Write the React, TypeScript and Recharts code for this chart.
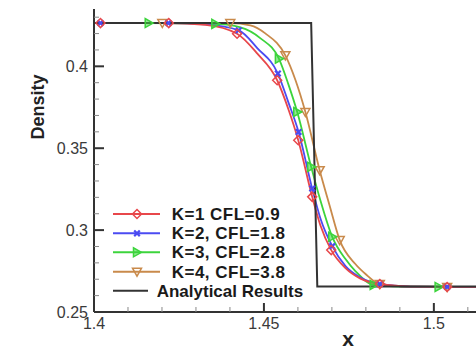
import React from 'react';
import { ComposedChart, Line, XAxis, YAxis } from 'recharts';

// ---------- tick values ----------
const xMajor = [1.4, 1.45, 1.5];
const xTicks = [1.4, 1.41, 1.42, 1.43, 1.44, 1.45, 1.46, 1.47, 1.48, 1.49, 1.5, 1.51];
const yMajor = [0.25, 0.3, 0.35, 0.4];
const yTicks = [0.25, 0.26, 0.27, 0.28, 0.29, 0.3, 0.31, 0.32, 0.33, 0.34, 0.35, 0.36, 0.37, 0.38, 0.39, 0.4, 0.41, 0.42, 0.43];

// ---------- series names ----------
const seriesNames = ['K=1 CFL=0.9', 'K=2, CFL=1.8', 'K=3, CFL=2.8', 'K=4, CFL=3.8', 'Analytical Results'];

// ---------- K=1 (red) ----------
const redCurveX = [1.4, 1.4328, 1.448, 1.4572, 1.4666, 1.474, 1.4784, 1.4931, 1.5124];
const redCurveY = [0.4264, 0.4253, 0.4079, 0.3738, 0.303, 0.2768, 0.2704, 0.2655, 0.2653];
const redMarkX = [1.4019, 1.422, 1.4421, 1.4539, 1.4601, 1.4642, 1.4698, 1.4841, 1.5039];
const redMarkY = [0.4264, 0.4264, 0.4199, 0.3915, 0.3549, 0.3203, 0.2878, 0.2671, 0.2653];

// ---------- K=2 (blue) ----------
const blueCurveX = [1.4, 1.4328, 1.4481, 1.4572, 1.4666, 1.474, 1.4784, 1.4931, 1.5124];
const blueCurveY = [0.4264, 0.4256, 0.411, 0.378, 0.3073, 0.278, 0.271, 0.2655, 0.2653];
const blueMarkX = [1.4019, 1.4219, 1.4426, 1.4541, 1.4602, 1.4642, 1.4701, 1.4841, 1.5039];
const blueMarkY = [0.4264, 0.4264, 0.422, 0.3956, 0.3599, 0.3254, 0.2902, 0.2671, 0.2653];

// ---------- K=3 (green) ----------
const greenCurveX = [1.4, 1.4431, 1.449, 1.4572, 1.4666, 1.474, 1.4769, 1.4902, 1.5124];
const greenCurveY = [0.4264, 0.4238, 0.4171, 0.389, 0.3183, 0.2823, 0.275, 0.2655, 0.2653];
const greenMarkX = [1.4161, 1.4357, 1.4544, 1.4598, 1.4639, 1.4701, 1.4823, 1.5014];
const greenMarkY = [0.4264, 0.4259, 0.4047, 0.3721, 0.3386, 0.2959, 0.2665, 0.2653];

// ---------- K=4 (brown) ----------
const brownCurveX = [1.4, 1.446, 1.4504, 1.4593, 1.4693, 1.4769, 1.4799, 1.4931, 1.5124];
const brownCurveY = [0.4264, 0.425, 0.4201, 0.3915, 0.3152, 0.2793, 0.2732, 0.2655, 0.2653];
const brownMarkX = [1.4201, 1.4401, 1.4563, 1.4622, 1.4664, 1.4723, 1.4841, 1.5039];
const brownMarkY = [0.4264, 0.4264, 0.4067, 0.3721, 0.3366, 0.2939, 0.2671, 0.2653];

// ---------- analytical ----------
const exactX = [1.4, 1.4639, 1.4657, 1.5124];
const exactY = [0.4264, 0.4264, 0.2655, 0.2655];

// ---------- styles ----------
const COLORS = ['#e8474b', '#4b4bf2', '#3cd43c', '#c98a4b', '#333333'];
const FONT = "'Liberation Sans', Arial, Helvetica, sans-serif";

type Pt = { x: number; y: number; m: boolean };

function build(cx: number[], cy: number[], mx: number[], my: number[]): Pt[] {
  const pts: Pt[] = [];
  cx.forEach((x, i) => pts.push({ x, y: cy[i], m: false }));
  mx.forEach((x, i) => pts.push({ x, y: my[i], m: true }));
  pts.sort((a, b) => a.x - b.x);
  return pts;
}

const redData = build(redCurveX, redCurveY, redMarkX, redMarkY);
const blueData = build(blueCurveX, blueCurveY, blueMarkX, blueMarkY);
const greenData = build(greenCurveX, greenCurveY, greenMarkX, greenMarkY);
const brownData = build(brownCurveX, brownCurveY, brownMarkX, brownMarkY);
const exactData = exactX.map((x, i) => ({ x, y: exactY[i] }));

function MarkerShape({ kind, cx, cy, color }: { kind: number; cx: number; cy: number; color: string }) {
  if (kind === 0) {
    const s = 4.5;
    return (
      <polygon
        points={`${cx},${cy - s} ${cx + s},${cy} ${cx},${cy + s} ${cx - s},${cy}`}
        fill="none"
        stroke={color}
        strokeWidth={1.5}
      />
    );
  }
  if (kind === 1) {
    const s = 2.8;
    return (
      <g stroke={color} strokeWidth={2.2}>
        <line x1={cx - s} y1={cy - s} x2={cx + s} y2={cy + s} />
        <line x1={cx - s} y1={cy + s} x2={cx + s} y2={cy - s} />
      </g>
    );
  }
  if (kind === 2) {
    const s = 4.5;
    return (
      <polygon
        points={`${cx + s},${cy} ${cx - s + 1},${cy - s} ${cx - s + 1},${cy + s}`}
        fill={color}
        fillOpacity={0.55}
        stroke={color}
        strokeWidth={1.5}
      />
    );
  }
  const s = 4.5;
  return (
    <polygon
      points={`${cx - s},${cy - s + 1} ${cx + s},${cy - s + 1} ${cx},${cy + s}`}
      fill="none"
      stroke={color}
      strokeWidth={1.5}
    />
  );
}

function makeDot(kind: number) {
  return (props: any) => {
    const { cx, cy, payload, index } = props;
    if (!payload || !payload.m || cx == null || cy == null) return <g key={`d${kind}-${index}`} />;
    return (
      <g key={`d${kind}-${index}`}>
        <MarkerShape kind={kind} cx={cx} cy={cy} color={COLORS[kind]} />
      </g>
    );
  };
}

const isIn = (arr: number[], v: number) => arr.some((a) => Math.abs(a - v) < 1e-6);

function XTick(props: any) {
  const { x, y, payload } = props;
  const v = payload.value as number;
  const major = isIn(xMajor, v);
  return (
    <g>
      <line x1={x} y1={y} x2={x} y2={y - (major ? 9 : 5)} stroke={major ? '#333' : '#888'} strokeWidth={major ? 2 : 1} />
      {major && (
        <text x={x} y={y + 17} textAnchor="middle" fontFamily={FONT} fontSize={16} fill="#3a3a3a">
          {String(v)}
        </text>
      )}
    </g>
  );
}

function YTick(props: any) {
  const { x, y, payload } = props;
  const v = payload.value as number;
  const major = isIn(yMajor, v);
  return (
    <g>
      <line x1={x} y1={y} x2={x + (major ? 10 : 5)} y2={y} stroke={major ? '#333' : '#888'} strokeWidth={major ? 2 : 1} />
      {major && (
        <text x={x - 6} y={y + 6} textAnchor="end" fontFamily={FONT} fontSize={16} fill="#3a3a3a">
          {String(v)}
        </text>
      )}
    </g>
  );
}

const legendRows = [214, 233.3, 252.3, 271.7, 290.7];

export default function App() {
  return (
    <div style={{ position: 'absolute', left: 0, top: 0, width: 476, height: 350, background: '#fff' }}>
      <ComposedChart width={476} height={350} margin={{ top: 9, right: 0, bottom: 0, left: 0 }}>
        <XAxis
          dataKey="x"
          type="number"
          domain={[1.4, 1.5124]}
          allowDataOverflow
          ticks={xTicks}
          interval={0}
          height={38}
          tickSize={0}
          tickMargin={0}
          tickLine={false}
          axisLine={{ stroke: '#333', strokeWidth: 2 }}
          tick={<XTick />}
        />
        <YAxis
          dataKey="y"
          type="number"
          domain={[0.25, 0.435]}
          allowDataOverflow
          ticks={yTicks}
          interval={0}
          width={94}
          tickSize={0}
          tickMargin={0}
          tickLine={false}
          axisLine={{ stroke: '#333', strokeWidth: 2 }}
          tick={<YTick />}
        />
        <Line data={brownData} dataKey="y" type="monotone" stroke={COLORS[3]} strokeWidth={1.8} dot={makeDot(3)} activeDot={false} isAnimationActive={false} />
        <Line data={greenData} dataKey="y" type="monotone" stroke={COLORS[2]} strokeWidth={1.8} dot={makeDot(2)} activeDot={false} isAnimationActive={false} />
        <Line data={blueData} dataKey="y" type="monotone" stroke={COLORS[1]} strokeWidth={1.8} dot={makeDot(1)} activeDot={false} isAnimationActive={false} />
        <Line data={redData} dataKey="y" type="monotone" stroke={COLORS[0]} strokeWidth={1.8} dot={makeDot(0)} activeDot={false} isAnimationActive={false} />
        <Line data={exactData} dataKey="y" type="linear" stroke={COLORS[4]} strokeWidth={2} dot={false} activeDot={false} isAnimationActive={false} />
      </ComposedChart>
      <svg width={476} height={350} style={{ position: 'absolute', left: 0, top: 0, pointerEvents: 'none' }}>
        <text transform="translate(44,107) rotate(-90)" textAnchor="middle" fontFamily={FONT} fontSize={18} fontWeight="bold" fill="#222">
          Density
        </text>
        <text x={348} y={346} textAnchor="middle" fontFamily={FONT} fontSize={21} fontWeight="bold" fill="#222">
          x
        </text>
        {seriesNames.map((name, i) => {
          const y = legendRows[i];
          const isExact = i === 4;
          return (
            <g key={name}>
              <line x1={113} y1={y} x2={isExact ? 148 : 160} y2={y} stroke={COLORS[i]} strokeWidth={2} />
              {!isExact && <MarkerShape kind={i} cx={137} cy={y} color={COLORS[i]} />}
              <text x={isExact ? 156.7 : 171.7} y={y + 6} fontFamily={FONT} fontSize={17} fontWeight="bold" fill="#1a1a1a" letterSpacing={isExact ? 0 : 0.5}>
                {name}
              </text>
            </g>
          );
        })}
      </svg>
    </div>
  );
}
